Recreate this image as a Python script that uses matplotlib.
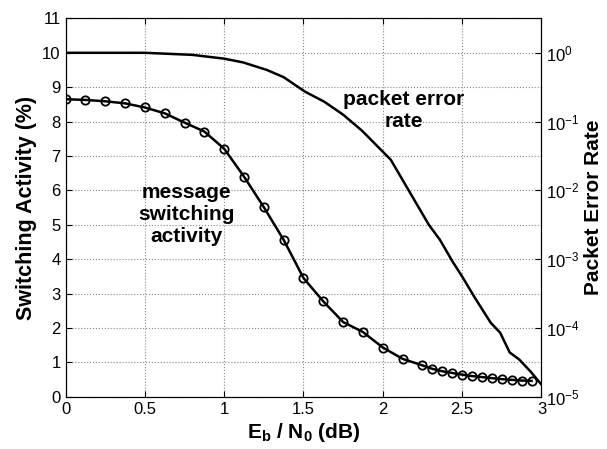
import numpy as np
import matplotlib
matplotlib.use('Agg')
import matplotlib.pyplot as plt
from matplotlib.ticker import LogLocator, NullLocator

plt.rcParams['font.family'] = ['Liberation Sans', 'DejaVu Sans']
plt.rcParams['mathtext.fontset'] = 'custom'
plt.rcParams['mathtext.rm'] = 'Liberation Sans'
plt.rcParams['mathtext.bf'] = 'Liberation Sans:bold'
plt.rcParams['mathtext.it'] = 'Liberation Sans:italic'

# Data ####################################################
msg_x = [0, 0.125, 0.25, 0.375, 0.5, 0.625, 0.75, 0.875, 1.0, 1.125, 1.25,
         1.375, 1.5, 1.625, 1.75, 1.875, 2.0, 2.125, 2.25, 2.3125, 2.375,
         2.4375, 2.5, 2.5625, 2.625, 2.6875, 2.75, 2.8125, 2.875, 2.9375]
msg_act = [8.65, 8.63, 8.59, 8.53, 8.41, 8.24, 7.97, 7.71, 7.21, 6.40, 5.51,
           4.56, 3.45, 2.77, 2.17, 1.88, 1.43, 1.10, 0.91, 0.81, 0.74,
           0.69, 0.64, 0.60, 0.57, 0.54, 0.51, 0.49, 0.47, 0.46]

per_x = [0, 0.5, 0.8, 1.0, 1.12, 1.27, 1.375, 1.51, 1.63, 1.75, 1.87, 2.05,
         2.29, 2.36, 2.44, 2.5, 2.58, 2.68, 2.74, 2.8, 2.86, 2.93, 3.0]
per = [1.0, 1.0, 0.933, 0.822, 0.724, 0.562, 0.442, 0.272, 0.195, 0.126,
       0.0733, 0.0279, 3.16e-3, 1.91e-3, 9.2e-4, 5.6e-4, 2.75e-4, 1.19e-4,
       8.5e-5, 4.4e-5, 3.47e-5, 2.34e-5, 1.5e-5]
###########################################################

fig = plt.figure(figsize=(6.07, 4.49), dpi=100)
ax = fig.add_axes([0.108, 0.1165, 0.784, 0.8425])

ax.plot(msg_x, msg_act, color='black', lw=1.8, marker='o', ms=6,
        mfc='none', mec='black', mew=1.3)
ax.set_xlim(0, 3)
ax.set_ylim(0, 11)
ax.set_xticks([0, 0.5, 1, 1.5, 2, 2.5, 3])
ax.set_xticklabels(['0', '0.5', '1', '1.5', '2', '2.5', '3'])
ax.set_yticks(range(12))
ax.grid(True, color='#888888', ls=':', lw=0.8)
ax.tick_params(direction='in', top=True, right=True, labelsize=12, length=4)
ax.set_xlabel(r'E$_{\mathbf{b}}$ / N$_{\mathbf{0}}$ (dB)', fontsize=15,
              fontweight='bold', labelpad=3)
ax.set_ylabel('Switching Activity (%)', fontsize=15.5, fontweight='bold',
              labelpad=4)

ax2 = ax.twinx()
ax2.semilogy(per_x, per, color='black', lw=1.8)
ax2.set_ylim(1e-5, 10 ** 0.5)
ax2.yaxis.set_major_locator(LogLocator(base=10, numticks=10))
ax2.yaxis.set_minor_locator(NullLocator())
ax2.tick_params(direction='in', labelsize=12, length=4)
ax2.set_ylabel('Packet Error Rate', fontsize=15, fontweight='bold',
               labelpad=3)

ax.text(2.13, 8.63, 'packet error', ha='center', va='center',
        fontsize=15, fontweight='bold')
ax.text(2.13, 8.0, 'rate', ha='center', va='center',
        fontsize=15, fontweight='bold')
ax.text(0.76, 5.3, 'message\nswitching\nactivity', ha='center', va='center',
        fontsize=15, fontweight='bold', linespacing=1.2)

fig.savefig('out.png', dpi=100)
